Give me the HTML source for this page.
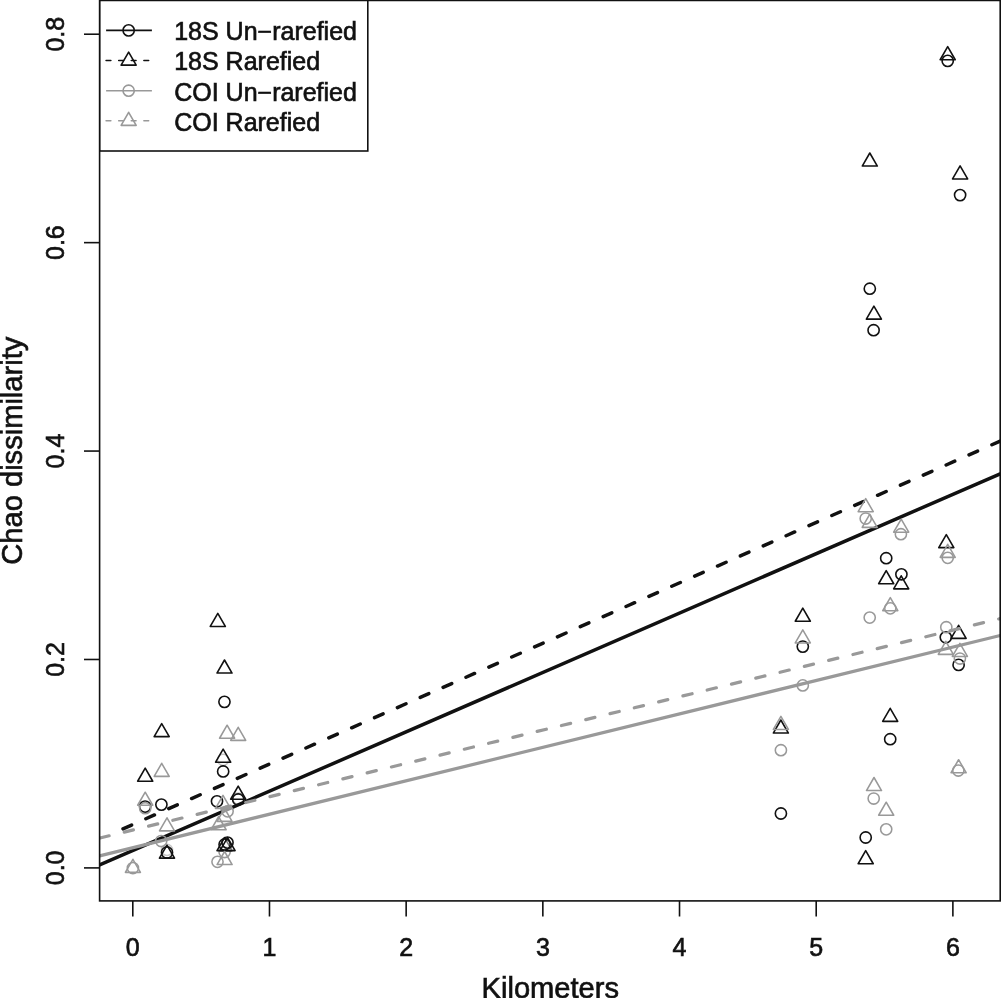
<!DOCTYPE html>
<html lang="en"><head><meta charset="utf-8"><title>Chao dissimilarity vs Kilometers</title>
<style>html,body{margin:0;padding:0;background:#fff}svg{display:block}text{font-family:"Liberation Sans",Arial,Helvetica,sans-serif;fill:#111;stroke:#111;stroke-width:0.65px}</style></head><body>
<svg width="1001" height="998" viewBox="0 0 1001 998">
<rect x="0" y="0" width="1001" height="998" fill="#fff"/>
<defs><clipPath id="plot"><rect x="99.6" y="0.45" width="900.6" height="900.4499999999999"/></clipPath></defs>
<g id="series-18S">
<circle cx="223.10" cy="759.80" r="5.6" stroke="#c6c6c6" stroke-width="1.45" fill="none"/>
<circle cx="167.00" cy="849.90" r="5.6" stroke="#c6c6c6" stroke-width="1.45" fill="none"/>
<circle cx="238.20" cy="798.50" r="5.6" stroke="#c6c6c6" stroke-width="1.45" fill="none"/>
<circle cx="224.60" cy="852.00" r="5.6" stroke="#999999" stroke-width="1.55" fill="none"/>
<path d="M145.20 768.19L152.74 781.25L137.66 781.25Z" stroke="#111111" stroke-width="1.6" fill="none" stroke-linejoin="round"/>
<path d="M161.70 723.59L169.24 736.65L154.16 736.65Z" stroke="#111111" stroke-width="1.6" fill="none" stroke-linejoin="round"/>
<path d="M167.00 845.09L174.54 858.15L159.46 858.15Z" stroke="#111111" stroke-width="1.6" fill="none" stroke-linejoin="round"/>
<path d="M217.80 613.39L225.34 626.45L210.26 626.45Z" stroke="#111111" stroke-width="1.6" fill="none" stroke-linejoin="round"/>
<path d="M224.50 659.99L232.04 673.05L216.96 673.05Z" stroke="#111111" stroke-width="1.6" fill="none" stroke-linejoin="round"/>
<path d="M223.15 749.14L230.69 762.20L215.61 762.20Z" stroke="#111111" stroke-width="1.6" fill="none" stroke-linejoin="round"/>
<path d="M238.20 786.19L245.74 799.25L230.66 799.25Z" stroke="#111111" stroke-width="1.6" fill="none" stroke-linejoin="round"/>
<path d="M224.55 837.59L232.09 850.65L217.01 850.65Z" stroke="#111111" stroke-width="1.6" fill="#fff" fill-opacity="0.45" stroke-linejoin="round"/>
<path d="M227.55 837.59L235.09 850.65L220.01 850.65Z" stroke="#111111" stroke-width="1.6" fill="#fff" fill-opacity="0.45" stroke-linejoin="round"/>
<path d="M780.85 719.99L788.39 733.05L773.31 733.05Z" stroke="#111111" stroke-width="1.6" fill="none" stroke-linejoin="round"/>
<path d="M802.80 608.19L810.34 621.25L795.26 621.25Z" stroke="#111111" stroke-width="1.6" fill="none" stroke-linejoin="round"/>
<path d="M865.70 850.69L873.24 863.75L858.16 863.75Z" stroke="#111111" stroke-width="1.6" fill="none" stroke-linejoin="round"/>
<path d="M869.80 152.99L877.34 166.05L862.26 166.05Z" stroke="#111111" stroke-width="1.6" fill="none" stroke-linejoin="round"/>
<path d="M873.90 306.09L881.44 319.15L866.36 319.15Z" stroke="#111111" stroke-width="1.6" fill="none" stroke-linejoin="round"/>
<path d="M886.20 570.69L893.74 583.75L878.66 583.75Z" stroke="#111111" stroke-width="1.6" fill="none" stroke-linejoin="round"/>
<path d="M901.20 575.79L908.74 588.85L893.66 588.85Z" stroke="#111111" stroke-width="1.6" fill="none" stroke-linejoin="round"/>
<path d="M890.20 708.29L897.74 721.35L882.66 721.35Z" stroke="#111111" stroke-width="1.6" fill="none" stroke-linejoin="round"/>
<path d="M947.70 46.69L955.24 59.75L940.16 59.75Z" stroke="#111111" stroke-width="1.6" fill="none" stroke-linejoin="round"/>
<path d="M960.10 165.89L967.64 178.95L952.56 178.95Z" stroke="#111111" stroke-width="1.6" fill="none" stroke-linejoin="round"/>
<path d="M946.30 534.59L953.84 547.65L938.76 547.65Z" stroke="#111111" stroke-width="1.6" fill="none" stroke-linejoin="round"/>
<path d="M958.60 625.29L966.14 638.35L951.06 638.35Z" stroke="#111111" stroke-width="1.6" fill="none" stroke-linejoin="round"/>
<circle cx="145.10" cy="806.60" r="5.6" stroke="#111111" stroke-width="1.6" fill="none"/>
<circle cx="161.40" cy="804.60" r="5.6" stroke="#111111" stroke-width="1.6" fill="none"/>
<circle cx="167.00" cy="852.50" r="5.6" stroke="#111111" stroke-width="1.6" fill="none"/>
<circle cx="223.15" cy="771.45" r="5.6" stroke="#111111" stroke-width="1.6" fill="none"/>
<circle cx="224.45" cy="701.85" r="5.6" stroke="#111111" stroke-width="1.6" fill="none"/>
<circle cx="217.00" cy="801.30" r="5.6" stroke="#111111" stroke-width="1.6" fill="none"/>
<circle cx="238.20" cy="799.50" r="5.6" stroke="#111111" stroke-width="1.6" fill="none"/>
<circle cx="227.50" cy="842.60" r="5.6" stroke="#111111" stroke-width="1.6" fill="none"/>
<circle cx="224.60" cy="844.50" r="5.6" stroke="#111111" stroke-width="1.6" fill="none"/>
<circle cx="780.90" cy="813.50" r="5.6" stroke="#111111" stroke-width="1.6" fill="none"/>
<circle cx="802.80" cy="646.60" r="5.6" stroke="#111111" stroke-width="1.6" fill="none"/>
<circle cx="865.70" cy="837.50" r="5.6" stroke="#111111" stroke-width="1.6" fill="none"/>
<circle cx="869.80" cy="288.70" r="5.6" stroke="#111111" stroke-width="1.6" fill="none"/>
<circle cx="873.60" cy="330.20" r="5.6" stroke="#111111" stroke-width="1.6" fill="none"/>
<circle cx="886.20" cy="558.20" r="5.6" stroke="#111111" stroke-width="1.6" fill="none"/>
<circle cx="901.40" cy="574.30" r="5.6" stroke="#111111" stroke-width="1.6" fill="none"/>
<circle cx="890.20" cy="739.20" r="5.6" stroke="#111111" stroke-width="1.6" fill="none"/>
<circle cx="947.70" cy="60.90" r="5.6" stroke="#111111" stroke-width="1.6" fill="none"/>
<circle cx="960.10" cy="195.10" r="5.6" stroke="#111111" stroke-width="1.6" fill="none"/>
<circle cx="945.80" cy="637.30" r="5.6" stroke="#111111" stroke-width="1.6" fill="none"/>
<circle cx="958.60" cy="664.90" r="5.6" stroke="#111111" stroke-width="1.6" fill="none"/>
<g clip-path="url(#plot)">
<line x1="99.60" y1="865.00" x2="1000.20" y2="473.80" stroke="#111111" stroke-width="3.5" stroke-linecap="round"/>
<line x1="123.01" y1="828.85" x2="1000.20" y2="441.10" stroke="#111111" stroke-width="3.5" stroke-linecap="round" stroke-dasharray="9.375 15.625"/>
</g></g>
<g id="series-COI">
<circle cx="132.90" cy="868.00" r="5.6" stroke="#999999" stroke-width="1.55" fill="none"/>
<circle cx="145.20" cy="808.20" r="5.6" stroke="#999999" stroke-width="1.55" fill="none"/>
<circle cx="161.20" cy="841.00" r="5.6" stroke="#999999" stroke-width="1.55" fill="none"/>
<circle cx="227.60" cy="811.30" r="5.6" stroke="#999999" stroke-width="1.55" fill="#fff" fill-opacity="0.55"/>
<circle cx="217.50" cy="861.80" r="5.6" stroke="#999999" stroke-width="1.55" fill="none"/>
<circle cx="780.90" cy="750.20" r="5.6" stroke="#999999" stroke-width="1.55" fill="none"/>
<circle cx="802.80" cy="685.40" r="5.6" stroke="#999999" stroke-width="1.55" fill="none"/>
<circle cx="865.70" cy="518.50" r="5.6" stroke="#999999" stroke-width="1.55" fill="none"/>
<circle cx="869.70" cy="617.60" r="5.6" stroke="#999999" stroke-width="1.55" fill="none"/>
<circle cx="873.70" cy="798.50" r="5.6" stroke="#999999" stroke-width="1.55" fill="none"/>
<circle cx="886.20" cy="829.30" r="5.6" stroke="#999999" stroke-width="1.55" fill="none"/>
<circle cx="890.30" cy="608.30" r="5.6" stroke="#999999" stroke-width="1.55" fill="none"/>
<circle cx="900.90" cy="534.20" r="5.6" stroke="#999999" stroke-width="1.55" fill="none"/>
<circle cx="947.70" cy="557.80" r="5.6" stroke="#999999" stroke-width="1.55" fill="none"/>
<circle cx="946.30" cy="627.20" r="5.6" stroke="#999999" stroke-width="1.55" fill="none"/>
<circle cx="959.90" cy="658.50" r="5.6" stroke="#999999" stroke-width="1.55" fill="none"/>
<circle cx="958.30" cy="770.50" r="5.6" stroke="#999999" stroke-width="1.55" fill="none"/>
<path d="M132.90 859.29L140.44 872.35L125.36 872.35Z" stroke="#999999" stroke-width="1.55" fill="none" stroke-linejoin="round"/>
<path d="M145.20 792.19L152.74 805.25L137.66 805.25Z" stroke="#999999" stroke-width="1.55" fill="none" stroke-linejoin="round"/>
<path d="M161.70 763.29L169.24 776.35L154.16 776.35Z" stroke="#999999" stroke-width="1.55" fill="none" stroke-linejoin="round"/>
<path d="M167.00 817.79L174.54 830.85L159.46 830.85Z" stroke="#999999" stroke-width="1.55" fill="none" stroke-linejoin="round"/>
<path d="M227.10 725.19L234.64 738.25L219.56 738.25Z" stroke="#999999" stroke-width="1.55" fill="none" stroke-linejoin="round"/>
<path d="M238.20 727.29L245.74 740.35L230.66 740.35Z" stroke="#999999" stroke-width="1.55" fill="none" stroke-linejoin="round"/>
<path d="M223.00 795.39L230.54 808.45L215.46 808.45Z" stroke="#999999" stroke-width="1.55" fill="none" stroke-linejoin="round"/>
<path d="M224.50 808.29L232.04 821.35L216.96 821.35Z" stroke="#999999" stroke-width="1.55" fill="none" stroke-linejoin="round"/>
<path d="M218.60 816.69L226.14 829.75L211.06 829.75Z" stroke="#999999" stroke-width="1.55" fill="none" stroke-linejoin="round"/>
<path d="M224.60 851.49L232.14 864.55L217.06 864.55Z" stroke="#999999" stroke-width="1.55" fill="none" stroke-linejoin="round"/>
<path d="M780.90 716.39L788.44 729.45L773.36 729.45Z" stroke="#999999" stroke-width="1.55" fill="none" stroke-linejoin="round"/>
<path d="M802.80 629.89L810.34 642.95L795.26 642.95Z" stroke="#999999" stroke-width="1.55" fill="none" stroke-linejoin="round"/>
<path d="M865.70 498.59L873.24 511.65L858.16 511.65Z" stroke="#999999" stroke-width="1.55" fill="none" stroke-linejoin="round"/>
<path d="M869.70 514.29L877.24 527.35L862.16 527.35Z" stroke="#999999" stroke-width="1.55" fill="none" stroke-linejoin="round"/>
<path d="M874.00 777.49L881.54 790.55L866.46 790.55Z" stroke="#999999" stroke-width="1.55" fill="none" stroke-linejoin="round"/>
<path d="M886.20 802.19L893.74 815.25L878.66 815.25Z" stroke="#999999" stroke-width="1.55" fill="none" stroke-linejoin="round"/>
<path d="M890.30 597.59L897.84 610.65L882.76 610.65Z" stroke="#999999" stroke-width="1.55" fill="none" stroke-linejoin="round"/>
<path d="M901.20 519.09L908.74 532.15L893.66 532.15Z" stroke="#999999" stroke-width="1.55" fill="none" stroke-linejoin="round"/>
<path d="M947.70 544.29L955.24 557.35L940.16 557.35Z" stroke="#999999" stroke-width="1.55" fill="none" stroke-linejoin="round"/>
<path d="M945.80 641.29L953.34 654.35L938.26 654.35Z" stroke="#999999" stroke-width="1.55" fill="none" stroke-linejoin="round"/>
<path d="M959.90 643.39L967.44 656.45L952.36 656.45Z" stroke="#999999" stroke-width="1.55" fill="none" stroke-linejoin="round"/>
<path d="M958.60 759.69L966.14 772.75L951.06 772.75Z" stroke="#999999" stroke-width="1.55" fill="none" stroke-linejoin="round"/>
<g clip-path="url(#plot)">
<line x1="99.60" y1="855.80" x2="1000.20" y2="635.50" stroke="#999999" stroke-width="3.25" stroke-linecap="round"/>
<line x1="99.99" y1="838.01" x2="1000.20" y2="618.60" stroke="#999999" stroke-width="3.25" stroke-linecap="round" stroke-dasharray="9.375 15.625"/>
</g></g>
<rect x="99.6" y="0.45" width="900.6" height="900.4499999999999" fill="none" stroke="#111111" stroke-width="1.6"/>
<g id="ticks" stroke="#111111" stroke-width="1.6">
<line x1="132.80" y1="900.9" x2="132.80" y2="916.5"/>
<line x1="269.48" y1="900.9" x2="269.48" y2="916.5"/>
<line x1="406.16" y1="900.9" x2="406.16" y2="916.5"/>
<line x1="542.84" y1="900.9" x2="542.84" y2="916.5"/>
<line x1="679.52" y1="900.9" x2="679.52" y2="916.5"/>
<line x1="816.20" y1="900.9" x2="816.20" y2="916.5"/>
<line x1="952.88" y1="900.9" x2="952.88" y2="916.5"/>
<line x1="84.00" y1="867.90" x2="99.6" y2="867.90"/>
<line x1="84.00" y1="659.48" x2="99.6" y2="659.48"/>
<line x1="84.00" y1="451.06" x2="99.6" y2="451.06"/>
<line x1="84.00" y1="242.64" x2="99.6" y2="242.64"/>
<line x1="84.00" y1="34.22" x2="99.6" y2="34.22"/>
</g>
<g id="ticklabels" font-size="25" text-anchor="middle">
<text x="132.80" y="956.0">0</text>
<text x="269.48" y="956.0">1</text>
<text x="406.16" y="956.0">2</text>
<text x="542.84" y="956.0">3</text>
<text x="679.52" y="956.0">4</text>
<text x="816.20" y="956.0">5</text>
<text x="952.88" y="956.0">6</text>
<text transform="translate(63.7 867.90) rotate(-90)">0.0</text>
<text transform="translate(63.7 659.48) rotate(-90)">0.2</text>
<text transform="translate(63.7 451.06) rotate(-90)">0.4</text>
<text transform="translate(63.7 242.64) rotate(-90)">0.6</text>
<text transform="translate(63.7 34.22) rotate(-90)">0.8</text>
</g>
<text x="550.3" y="997.8" font-size="29.1" text-anchor="middle">Kilometers</text>
<text transform="translate(22 450.7) rotate(-90)" font-size="29.1" text-anchor="middle">Chao dissimilarity</text>
<g id="legend">
<rect x="99.8" y="0.45" width="268.00" height="150.55" fill="#fff" stroke="#111111" stroke-width="1.6"/>
<line x1="106.1" y1="30.4" x2="151.9" y2="30.4" stroke="#111111" stroke-width="1.6"/>
<circle cx="128.65" cy="30.40" r="5.6" stroke="#111111" stroke-width="1.6" fill="none"/>
<text x="174.2" y="40.20" font-size="25">18S Un−rarefied</text>
<line x1="106.1" y1="60.5" x2="151.9" y2="60.5" stroke="#111111" stroke-width="1.6" stroke-dasharray="4.75 7.85" stroke-linecap="round"/>
<path d="M128.65 52.09L136.19 65.15L121.11 65.15Z" stroke="#111111" stroke-width="1.6" fill="none" stroke-linejoin="round"/>
<text x="174.2" y="70.30" font-size="25">18S Rarefied</text>
<line x1="106.1" y1="90.7" x2="151.9" y2="90.7" stroke="#999999" stroke-width="1.6"/>
<circle cx="128.65" cy="90.70" r="5.6" stroke="#999999" stroke-width="1.6" fill="none"/>
<text x="174.2" y="100.50" font-size="25">COI Un−rarefied</text>
<line x1="106.1" y1="120.7" x2="151.9" y2="120.7" stroke="#999999" stroke-width="1.6" stroke-dasharray="4.75 7.85" stroke-linecap="round"/>
<path d="M128.65 112.29L136.19 125.35L121.11 125.35Z" stroke="#999999" stroke-width="1.6" fill="none" stroke-linejoin="round"/>
<text x="174.2" y="130.50" font-size="25">COI Rarefied</text>
</g>
</svg></body></html>
